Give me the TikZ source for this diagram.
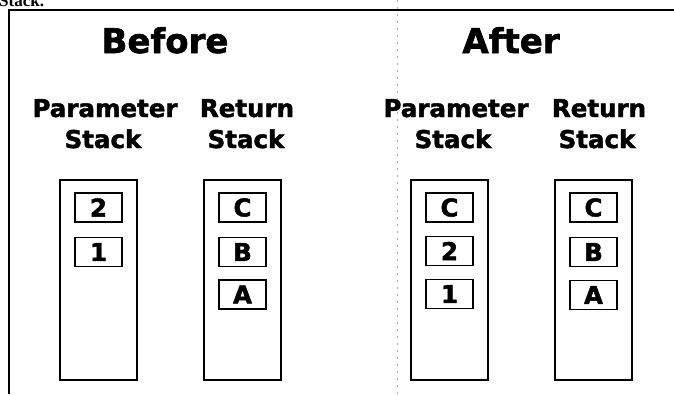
\documentclass[tikz,border=0pt]{standalone}
\usepackage{fontspec}
\setmainfont{DejaVu Sans}[BoldFeatures={FakeBold=1.8}]
\newfontfamily\serifhead{Liberation Serif}
\begin{document}
\begin{tikzpicture}[x=1pt,y=-1pt,
  title/.style={font=\bfseries\fontsize{34}{40}\selectfont, anchor=base, inner sep=0pt},
  label/.style={font=\bfseries\fontsize{24.5}{30}\selectfont, anchor=base, inner sep=0pt},
  stackbox/.style={draw, line width=1.3pt, minimum width=77pt, minimum height=200pt, inner sep=0pt},
  cell/.style={draw, line width=1.8pt, minimum width=47pt, minimum height=29pt, inner sep=0pt,
    font=\bfseries\fontsize{24.5}{30}\selectfont},
  frame/.style={line width=2.8pt},
  fold/.style={gray!60, line width=0.6pt, dash pattern=on 2pt off 5pt}
]
\useasboundingbox (0,0) rectangle (674,394);
\clip (0,0) rectangle (674,394);
% cut-off heading above the frame
\node[font=\serifhead\bfseries\fontsize{17}{20}\selectfont, anchor=base west, inner sep=0pt] (hd) at (-1,6) {Stack.};
% frame
\coordinate (ftl) at (9,10);
\coordinate (fbl) at (9,394);
\coordinate (ftr) at (674,10);
\draw[frame] (fbl) -- (ftl) -- (ftr);
% fold line
\coordinate (fa) at (397,0);
\coordinate (fb) at (397,394);
\draw[fold] (fa) -- (fb);
% titles
\node[title] (before) at (165,53) {Before};
\node[title] (after) at (511,53) {After};
% column labels
\node[label] (bp1) at (105,117) {Parameter};
\node[label] (bp2) at (103,148) {Stack};
\node[label] (br1) at (247,117) {Return};
\node[label] (br2) at (246,148) {Stack};
\node[label] (ap1) at (456,117) {Parameter};
\node[label] (ap2) at (453,148) {Stack};
\node[label] (ar1) at (599,117) {Return};
\node[label] (ar2) at (597,148) {Stack};
% tall stack boxes
\node[stackbox] (bps) at (98.5,280) {};
\node[stackbox] (brs) at (242.5,280) {};
\node[stackbox] (aps) at (449.5,280) {};
\node[stackbox] (ars) at (593.5,280) {};
% cells
\node[cell] (bpc1) at (98.5,207.5) {2};
\node[cell] (bpc2) at (98.5,252) {1};
\node[cell] (brc1) at (242.5,207.5) {C};
\node[cell] (brc2) at (242.5,252) {B};
\node[cell] (brc3) at (242.5,294.5) {A};
\node[cell] (apc1) at (449.5,207.5) {C};
\node[cell] (apc2) at (449.5,251) {2};
\node[cell] (apc3) at (449.5,294) {1};
\node[cell] (arc1) at (593.5,207.5) {C};
\node[cell] (arc2) at (593.5,252) {B};
\node[cell] (arc3) at (593.5,295) {A};
\end{tikzpicture}
\end{document}
